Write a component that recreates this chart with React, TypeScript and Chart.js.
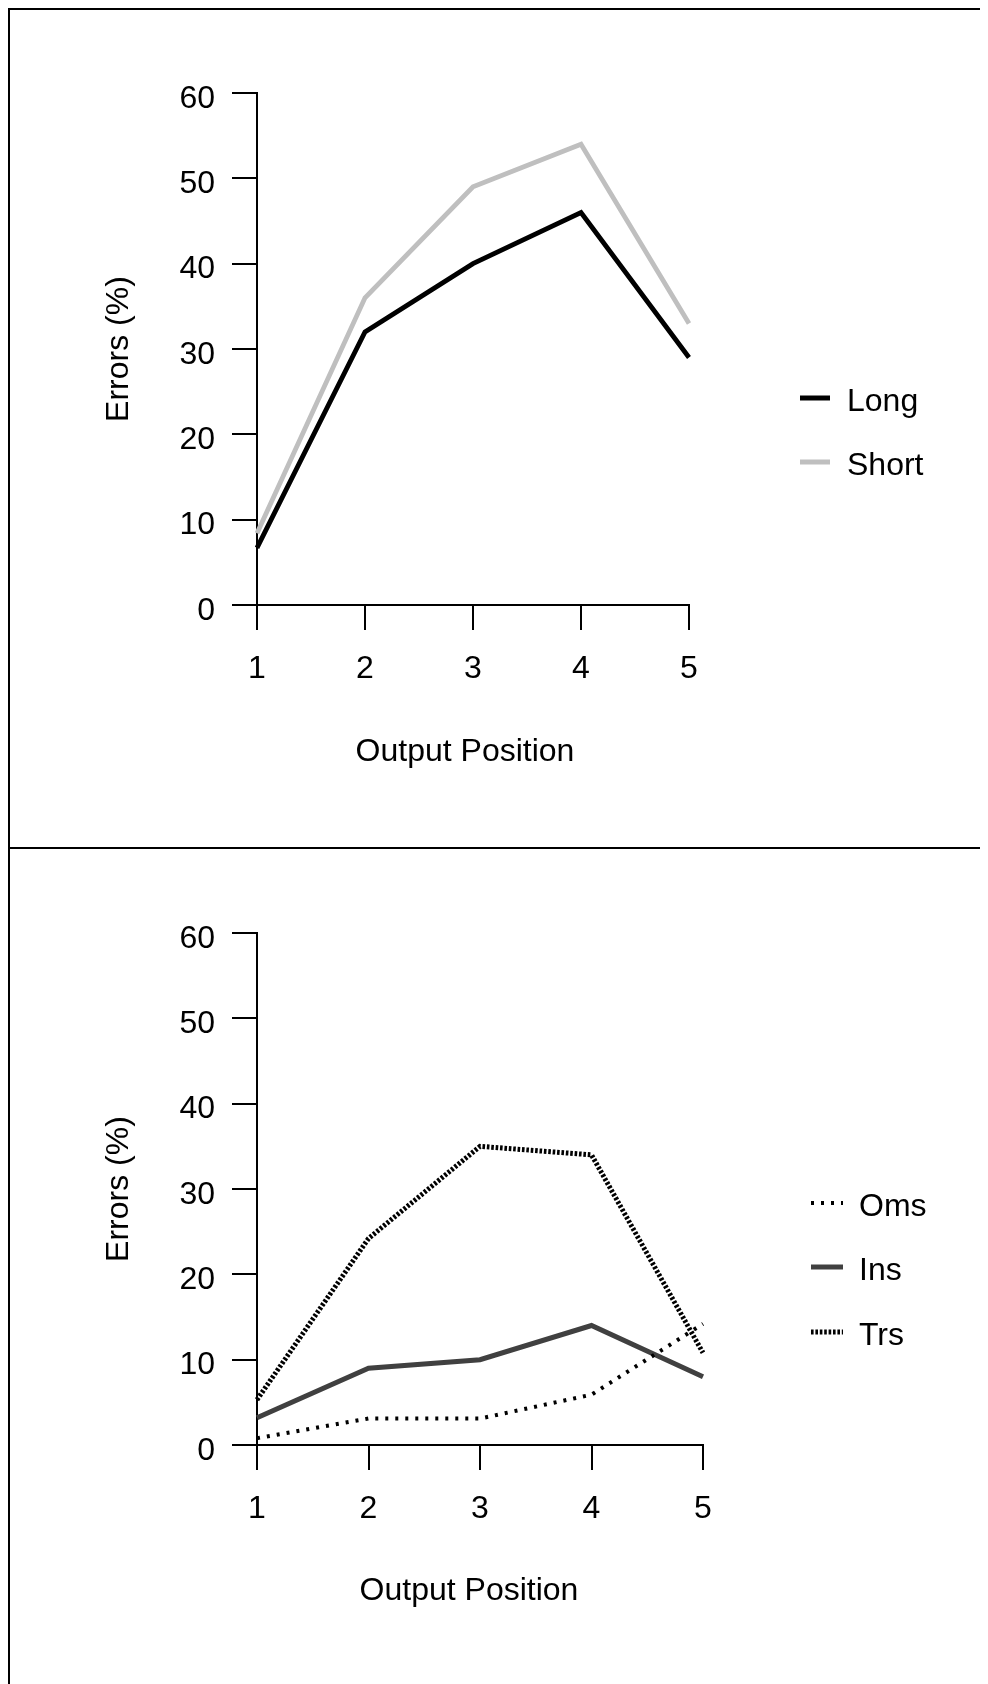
import React, { useEffect, useRef } from 'react';
import { Chart, registerables } from 'chart.js';

Chart.register(...registerables);

// ---- data ----
const positions = ['1', '2', '3', '4', '5'];
const yTickValues = [0, 10, 20, 30, 40, 50, 60];
const longErrors = [6.7, 32, 40, 46, 29];
const shortErrors = [8.4, 36, 49, 54, 33];
const omsErrors = [0.8, 3.1, 3.1, 5.9, 14.2];
const insErrors = [3.2, 9, 10, 14, 8];
const trsErrors = [5.3, 24.2, 35, 34, 10.8];
const yTitle = 'Errors (%)';
const xTitle = 'Output Position';
const topLegendLabels = ['Long', 'Short'];
const bottomLegendLabels = ['Oms', 'Ins', 'Trs'];

const FONT = '"Liberation Sans", Arial, Helvetica, sans-serif';
const FS = 32;
const CANVAS_W = 978;

type Geom = {
  top: number;
  yAxisWidth: number;
  right: number;
  xAxisHeight: number;
  xTitleX: number;
  xTitleY: number;
  yTitleX: number;
  yTitleY: number;
  legX0: number;
  legX1: number;
  legTextX: number;
  legY: number[];
};

type LegendItem = { label: string; color: string; width: number; dash: number[] };

function makeDeco(geom: Geom, legend: LegendItem[]) {
  return {
    id: 'deco',
    afterDraw(chart: any) {
      const ctx = chart.ctx as CanvasRenderingContext2D;
      ctx.save();
      ctx.fillStyle = '#000';
      ctx.font = `${FS}px ${FONT}`;
      // x title
      ctx.textAlign = 'center';
      ctx.textBaseline = 'alphabetic';
      ctx.fillText(xTitle, geom.xTitleX, geom.xTitleY);
      // y title
      ctx.save();
      ctx.translate(geom.yTitleX, geom.yTitleY);
      ctx.rotate(-Math.PI / 2);
      ctx.textAlign = 'center';
      ctx.textBaseline = 'alphabetic';
      ctx.fillText(yTitle, 0, 0);
      ctx.restore();
      // legend
      legend.forEach((it, i) => {
        const y = geom.legY[i];
        ctx.save();
        ctx.strokeStyle = it.color;
        ctx.lineWidth = it.width;
        ctx.lineCap = 'butt';
        ctx.setLineDash(it.dash);
        ctx.beginPath();
        ctx.moveTo(geom.legX0, y);
        ctx.lineTo(geom.legX1, y);
        ctx.stroke();
        ctx.restore();
        ctx.fillStyle = '#000';
        ctx.textAlign = 'left';
        ctx.textBaseline = 'middle';
        ctx.fillText(it.label, geom.legTextX, y + 4);
      });
      ctx.restore();
    },
  };
}

function makeConfig(datasets: any[], geom: Geom, legend: LegendItem[]): any {
  const tickFont = { family: FONT, size: FS };
  const grid = {
    display: true,
    drawOnChartArea: false,
    drawTicks: true,
    tickLength: 25,
    color: '#000',
    lineWidth: 2,
    offset: false,
  };
  const border = { display: true, color: '#000', width: 2 };
  return {
    type: 'line',
    data: { labels: positions, datasets },
    options: {
      responsive: false,
      maintainAspectRatio: false,
      animation: false,
      devicePixelRatio: 1,
      layout: { padding: { left: 0, top: geom.top, right: geom.right, bottom: 0 } },
      plugins: {
        legend: { display: false },
        tooltip: { enabled: false },
        title: { display: false },
      },
      elements: { point: { radius: 0, hoverRadius: 0 }, line: { tension: 0 } },
      scales: {
        x: {
          type: 'category',
          offset: false,
          grid,
          border,
          ticks: { color: '#000', font: tickFont, padding: 20, maxRotation: 0, autoSkip: false },
          afterFit: (s: any) => {
            s.height = geom.xAxisHeight;
          },
        },
        y: {
          type: 'linear',
          min: 0,
          max: 60,
          grid,
          border,
          ticks: { color: '#000', font: tickFont, padding: 17, labelOffset: 6 },
          afterBuildTicks: (s: any) => {
            s.ticks = yTickValues.map((v) => ({ value: v }));
          },
          afterFit: (s: any) => {
            s.width = geom.yAxisWidth;
          },
        },
      },
    },
    plugins: [makeDeco(geom, legend)],
  };
}

function Panel({ height, config }: { height: number; config: () => any }) {
  const ref = useRef<HTMLCanvasElement>(null);
  useEffect(() => {
    const chart = new Chart(ref.current as HTMLCanvasElement, config());
    return () => chart.destroy();
  }, []);
  return (
    <div
      style={{
        borderTop: '2px solid #000',
        borderLeft: '2px solid #000',
        width: CANVAS_W,
        height,
        overflow: 'hidden',
      }}
    >
      <canvas ref={ref} width={CANVAS_W} height={height} style={{ display: 'block', width: CANVAS_W, height }} />
    </div>
  );
}

const topLegend: LegendItem[] = [
  { label: topLegendLabels[0], color: '#000000', width: 5, dash: [] },
  { label: topLegendLabels[1], color: '#bfbfbf', width: 5, dash: [] },
];
const bottomLegend: LegendItem[] = [
  { label: bottomLegendLabels[0], color: '#000000', width: 4, dash: [3, 7] },
  { label: bottomLegendLabels[1], color: '#404040', width: 5, dash: [] },
  { label: bottomLegendLabels[2], color: '#000000', width: 5, dash: [2.6, 1.8] },
];

const topGeom: Geom = {
  top: 83,
  yAxisWidth: 247,
  right: 299,
  xAxisHeight: 242,
  xTitleX: 455,
  xTitleY: 751,
  yTitleX: 118,
  yTitleY: 339,
  legX0: 790,
  legX1: 820,
  legTextX: 837,
  legY: [388, 452],
};
const bottomGeom: Geom = {
  top: 84,
  yAxisWidth: 247,
  right: 285,
  xAxisHeight: 239,
  xTitleX: 459,
  xTitleY: 751,
  yTitleX: 118,
  yTitleY: 340,
  legX0: 801,
  legX1: 833,
  legTextX: 849,
  legY: [354, 418, 483],
};

const topConfig = () =>
  makeConfig(
    [
      { label: topLegendLabels[1], data: shortErrors, borderColor: '#bfbfbf', borderWidth: 4.8, fill: false, order: 2 },
      { label: topLegendLabels[0], data: longErrors, borderColor: '#000000', borderWidth: 4.8, fill: false, order: 1 },
    ],
    topGeom,
    topLegend
  );

const bottomConfig = () =>
  makeConfig(
    [
      { label: bottomLegendLabels[0], data: omsErrors, borderColor: '#000000', borderWidth: 4, borderDash: [3, 7], fill: false, order: 1 },
      { label: bottomLegendLabels[1], data: insErrors, borderColor: '#404040', borderWidth: 5, fill: false, order: 3 },
      { label: bottomLegendLabels[2], data: trsErrors, borderColor: '#000000', borderWidth: 5, borderDash: [2.6, 1.8], fill: false, order: 2 },
    ],
    bottomGeom,
    bottomLegend
  );

export default function App() {
  useEffect(() => {
    document.documentElement.style.overflow = 'hidden';
  }, []);
  return (
    <div>
      <Panel height={837} config={topConfig} />
      <Panel height={835} config={bottomConfig} />
    </div>
  );
}
